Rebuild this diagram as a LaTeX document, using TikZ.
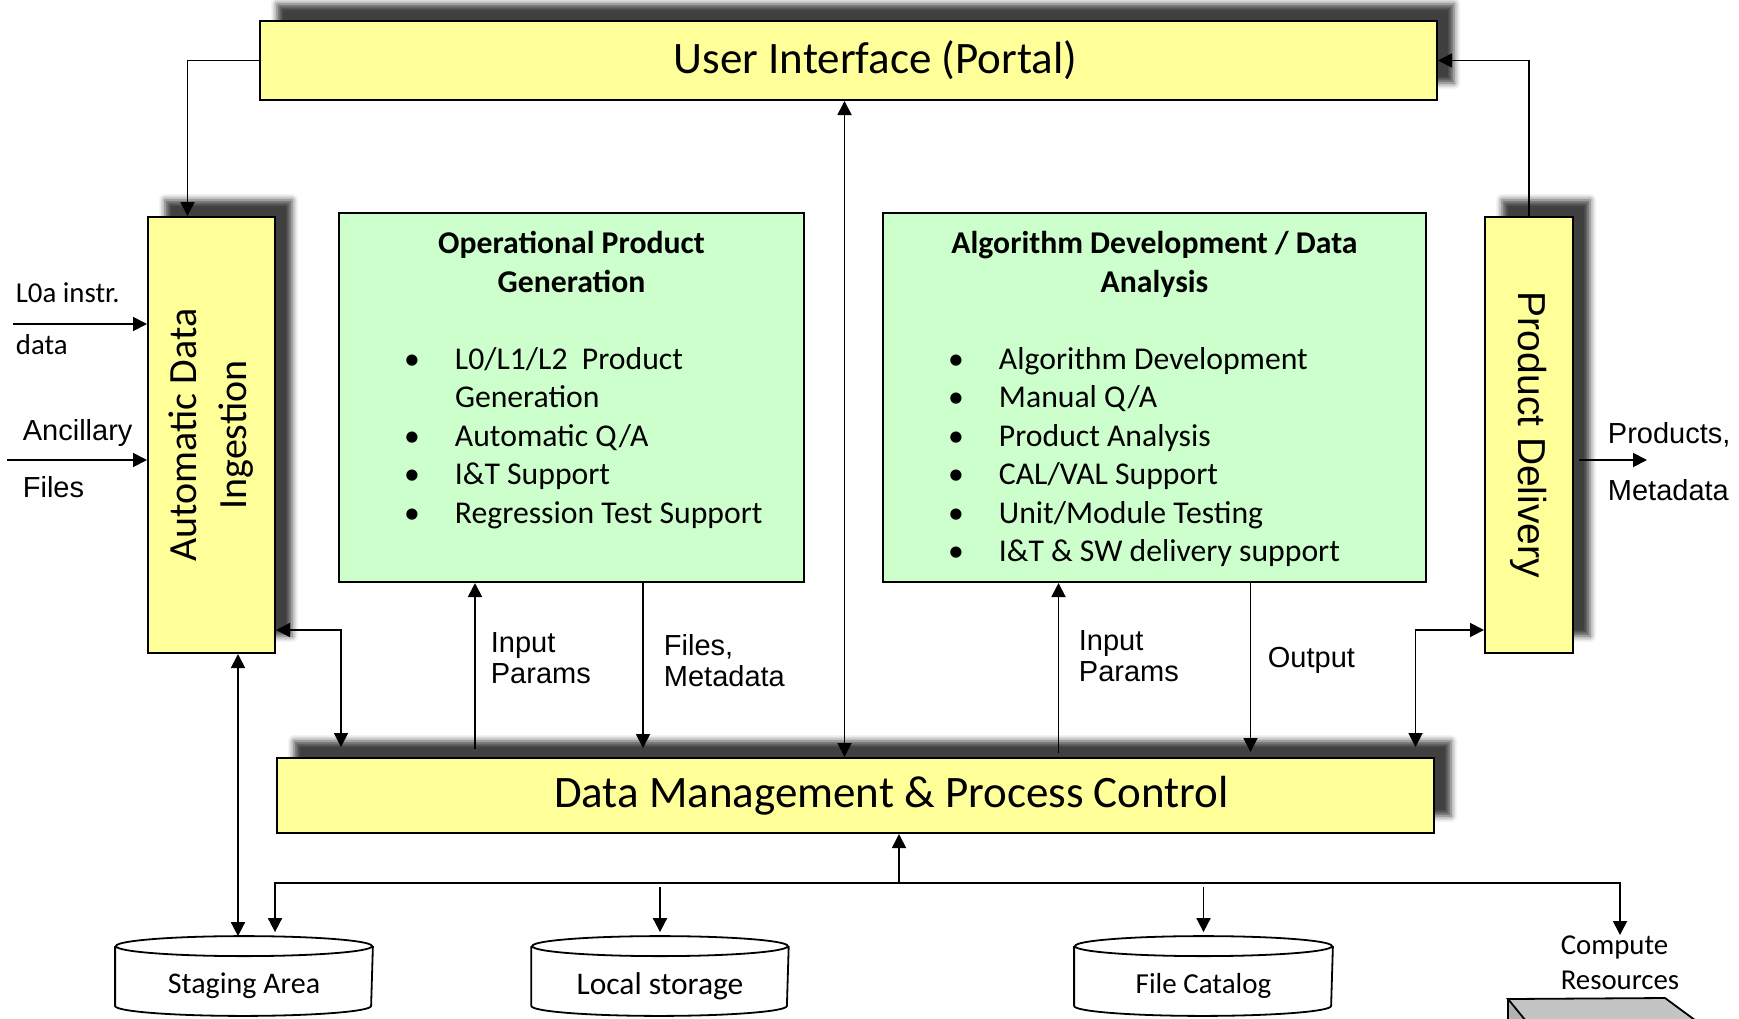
\documentclass[tikz,border=0pt]{standalone}
\usepackage{graphicx}
\usepackage{fontspec}
\setmainfont{Carlito}
\newfontfamily\arialfont{Liberation Sans}
\usetikzlibrary{arrows.meta,shadows.blur}
\definecolor{boxyellow}{HTML}{FFFF99}
\definecolor{boxgreen}{HTML}{CCFFCC}
\definecolor{servergray}{HTML}{C4C4C4}
\newcommand{\listline}[2]{\par\makebox[\linewidth][l]{\hspace*{32.5pt}\makebox[25.5pt][l]{#1}#2}}

\begin{document}
\begin{tikzpicture}[x=0.5pt,y=-0.5pt,line width=0.9pt,>={Triangle[length=7pt,width=7pt]},
	yellowbox/.style={draw,line width=1pt,fill=boxyellow,inner sep=0pt,
		blur shadow={shadow xshift=8.5pt,shadow yshift=8.5pt,shadow blur radius=3pt,shadow opacity=75}},
	greenbox/.style={draw,line width=1pt,fill=boxgreen,inner sep=0pt,font=\fontsize{15.85pt}{19.25pt}\selectfont},
	store/.style={inner sep=0pt,minimum height=29pt},
	lbl/.style={font=\arialfont\fontsize{14.5pt}{15.5pt}\selectfont,align=left,inner sep=0pt,anchor=west},
	lblc/.style={font=\fontsize{14.4pt}{17.5pt}\selectfont,align=left,inner sep=0pt,anchor=west}]
			\useasboundingbox (0,0) rectangle (1739,1018);
			\node[yellowbox,minimum width=588.5pt,minimum height=39.5pt,font=\fontsize{22.5pt}{27pt}\selectfont] (ui) at (848.5,60.5) {\hspace*{27pt}User Interface (Portal)};
			\node[yellowbox,minimum width=578.5pt,minimum height=37.5pt,font=\fontsize{22.5pt}{27pt}\selectfont] (dmpc) at (855.5,795.5) {\hspace*{36pt}Data Management \& Process Control};
			\node[yellowbox,minimum width=63.5pt,minimum height=218pt,font=\fontsize{20pt}{25pt}\selectfont] (adi) at (211.5,435) {\rotatebox{90}{\begin{tabular}{@{}c@{}}Automatic Data\\Ingestion\end{tabular}}};
			\node[yellowbox,minimum width=44pt,minimum height=218pt,font=\arialfont\fontsize{19.5pt}{23pt}\selectfont] (pd) at (1529,435) {\rotatebox{-90}{Product Delivery}};
			\node[greenbox] (opg) at (571.5,397.5) {\parbox[c][184.5pt][t]{232.5pt}{\centering\bfseries\rule{0pt}{20.25pt}Operational Product\\Generation\par\mdseries\vspace{\baselineskip}
				\listline{\textbullet}{L0/L1/L2\ \ Product}
				\listline{}{Generation}
				\listline{\textbullet}{Automatic Q/A}
				\listline{\textbullet}{I\&T Support}
				\listline{\textbullet}{Regression Test Support}}};
			\node[greenbox] (ada) at (1154.5,397.5) {\parbox[c][184.5pt][t]{271.5pt}{\centering\bfseries\rule{0pt}{20.25pt}Algorithm Development / Data\\Analysis\par\mdseries\vspace{\baselineskip}
				\listline{\textbullet}{Algorithm Development}
				\listline{\textbullet}{Manual Q/A}
				\listline{\textbullet}{Product Analysis}
				\listline{\textbullet}{CAL/VAL Support}
				\listline{\textbullet}{Unit/Module Testing}
				\listline{\textbullet}{I\&T \& SW delivery support}}};
			\node[store,minimum width=128pt,font=\fontsize{15pt}{18pt}\selectfont] (stage) at (244,986) {Staging Area};
			\node[store,minimum width=127.8pt,font=\fontsize{15.75pt}{18pt}\selectfont] (local) at (660,986) {Local storage};
			\node[store,minimum width=128.5pt,font=\fontsize{14.5pt}{18pt}\selectfont] (catalog) at (1203.5,986) {File Catalog};
			\foreach \s/\r in {stage/64pt,local/63.9pt,catalog/64.25pt}
				\draw ([yshift=5pt]\s.north west) -- ([yshift=5pt]\s.south west) arc[start angle=180,end angle=360,x radius=\r,y radius=5pt] -- ([yshift=5pt]\s.north east) ([yshift=5pt]\s.north) ellipse[x radius=\r,y radius=5pt];
			\node[font=\fontsize{14.4pt}{17.5pt}\selectfont,align=left,inner sep=0pt,anchor=north] (comp) at (1620,935) {Compute\\Resources};
			\fill[gray!60] (1508,999) -- (1530,1026) -- (1508,1026) -- cycle;
			\draw[fill=servergray] (1508,999) -- (1665,998) -- (1703,1026) -- (1530,1026) -- cycle;
			\draw (1508,999) -- (1508,1026);
			\node[lblc] (l0a) at (15,293) {L0a instr.};
			\node[lblc] (l0b) at (15,345) {data};
			\node[lbl] (anc) at (22,433) {Ancillary};
			\node[lbl] (ancf) at (22,487) {Files};
			\node[lbl] (ipl) at (490,658) {Input\\Params};
			\node[lbl] (fml) at (663,661) {Files,\\Metadata};
			\node[lbl] (ipr) at (1078,656) {Input\\Params};
			\node[lbl] (outl) at (1267,660) {Output};
			\node[lbl] (prod) at (1607,435) {Products,};
			\node[lbl] (meta) at (1607,490) {Metadata};
			\coordinate (l0in) at (13,324);
			\coordinate (ancin) at (7,460);
			\coordinate (pdout) at (1647,460);
			\coordinate (uimid) at ([xshift=-2pt]ui.south);
			\coordinate (adiport) at (341,630);
			\coordinate (pdport) at (1415.5,630);
			\coordinate (opgin) at ([xshift=-48.25pt]opg.south);
			\coordinate (opgout) at ([xshift=35.75pt]opg.south);
			\coordinate (adain) at ([xshift=-48pt]ada.south);
			\coordinate (adaout) at ([xshift=48pt]ada.south);
			\coordinate (dmpcin) at ([xshift=21.75pt]dmpc.south);
			\coordinate (busl) at (275,883);
			\coordinate (busr) at (1620,883);
			\coordinate (stagetop) at ([yshift=12pt]stage.north);
			\coordinate (sa) at ([xshift=-3pt,yshift=10pt]stage.north);
			\draw[->] (ui.west) -| ([xshift=-12pt]adi.north);
			\draw[->] (pd.north) |- (ui.east);
			\draw[<->] (uimid) -- (uimid |- dmpc.north);
			\draw[->] (l0in) -- (l0in -| adi.west);
			\draw[->] (ancin) -- (ancin -| adi.west);
			\draw[->,shorten <=2.5pt] (pdout -| pd.east) -- (pdout);
			\draw[<->,shorten >=5pt] (adiport -| adi.east) -| (adiport |- dmpc.north);
			\draw[<->,shorten <=5pt] (pdport |- dmpc.north) |- (pdport -| pd.west);
			\draw[->,shorten <=4pt] (opgin |- dmpc.north) -- (opgin);
			\draw[->,shorten >=4.5pt] (opgout) -- (opgout |- dmpc.north);
			\draw[->,shorten <=2pt] (adain |- dmpc.north) -- (adain);
			\draw[->,shorten >=2.5pt] (adaout) -- (adaout |- dmpc.north);
			\draw[<->] (sa |- adi.south) -- (sa);
			\draw[<->] (busl |- stagetop) |- (busr) -- (busr |- comp.north);
			\draw[->,shorten <=2pt] (local.north |- busl) -- ([yshift=12pt]local.north);
			\draw[->,shorten <=2pt] (catalog.north |- busl) -- ([yshift=12pt]catalog.north);
			\draw[->] (dmpcin |- busl) -- (dmpcin);
		\end{tikzpicture}
\end{document}
